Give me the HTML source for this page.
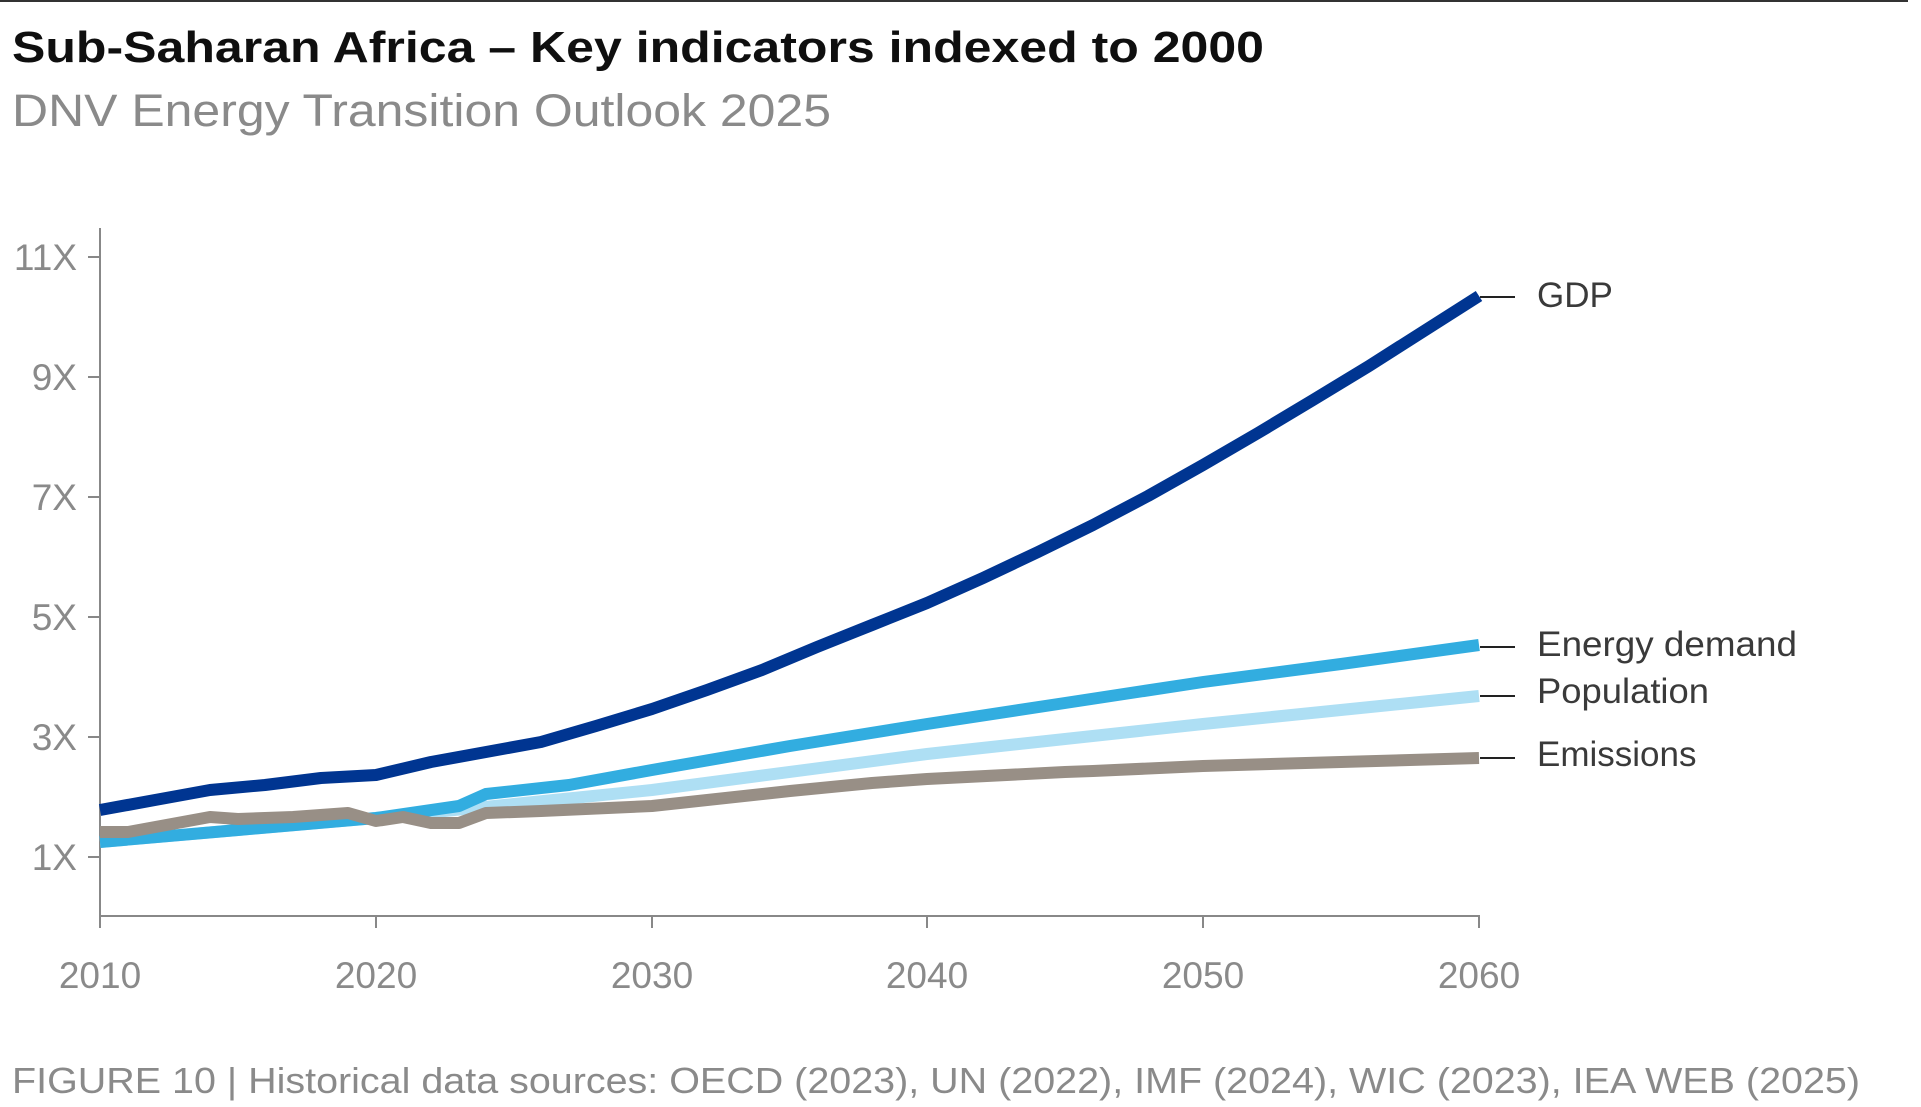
<!DOCTYPE html>
<html><head><meta charset="utf-8"><style>
html,body{margin:0;padding:0;background:#fff;}
body{width:1921px;height:1107px;overflow:hidden;position:relative;font-family:"Liberation Sans",sans-serif;}
</style></head><body>
<svg width="1921" height="1107" xmlns="http://www.w3.org/2000/svg" style="position:absolute;left:0;top:0">
<line x1="0" y1="1" x2="1908" y2="1" stroke="#333" stroke-width="2"/>
<text x="12" y="62" font-family="Liberation Sans" font-weight="bold" font-size="44" fill="#0f0f0f" textLength="1252" lengthAdjust="spacingAndGlyphs">Sub-Saharan Africa – Key indicators indexed to 2000</text>
<text x="12" y="126" font-family="Liberation Sans" font-size="45" fill="#8a8a8a" textLength="819" lengthAdjust="spacingAndGlyphs">DNV Energy Transition Outlook 2025</text>
<g stroke="#888" stroke-width="2">
<line x1="100" y1="228" x2="100" y2="917"/>
<line x1="100" y1="916" x2="1480" y2="916"/>
<line x1="88" y1="257" x2="100" y2="257"/>
<line x1="88" y1="377" x2="100" y2="377"/>
<line x1="88" y1="497" x2="100" y2="497"/>
<line x1="88" y1="617" x2="100" y2="617"/>
<line x1="88" y1="737" x2="100" y2="737"/>
<line x1="88" y1="857" x2="100" y2="857"/>
<line x1="100" y1="916" x2="100" y2="928"/>
<line x1="376" y1="916" x2="376" y2="928"/>
<line x1="652" y1="916" x2="652" y2="928"/>
<line x1="927" y1="916" x2="927" y2="928"/>
<line x1="1203" y1="916" x2="1203" y2="928"/>
<line x1="1479" y1="916" x2="1479" y2="928"/>
</g>
<g font-family="Liberation Sans" font-size="37" fill="#8a8a8a" text-anchor="end">
<text x="77" y="270">11X</text><text x="77" y="390">9X</text><text x="77" y="510">7X</text>
<text x="77" y="630">5X</text><text x="77" y="750">3X</text><text x="77" y="870">1X</text>
</g>
<g font-family="Liberation Sans" font-size="37" fill="#8a8a8a" text-anchor="middle">
<text x="100" y="988">2010</text><text x="376" y="988">2020</text><text x="652" y="988">2030</text>
<text x="927" y="988">2040</text><text x="1203" y="988">2050</text><text x="1479" y="988">2060</text>
</g>
<g fill="none" stroke-width="12" stroke-linejoin="round">
<polyline stroke="#aedff4" points="100,842 238,830 376,818 514,804 652,790 927,754 1203,724 1479,696"/>
<polyline stroke="#32ade0" points="100,842 238,830 376,818 459,806 486,794 569,785 652,770 790,746 927,724 1065,703 1203,682 1341,664 1479,645"/>
<polyline stroke="#988f86" points="100,832 128,832 210,817 238,819 293,817 348,813 376,821 403,817 431,823 459,823 486,813 541,811 652,806 790,791 872,783 927,779 1065,772 1093,771 1203,766 1341,762 1479,758"/>
<polyline stroke="#003591" points="100,810 155,800 210,790 265,785 321,778 376,775 431,762 486,752 541,742 596,726 652,709 707,690 762,670 817,647 872,625 927,603 983,578 1038,552 1093,525 1148,496 1203,465 1258,433 1313,400 1369,366 1424,331 1479,296"/>
</g>
<g stroke="#222" stroke-width="2">
<line x1="1480" y1="297" x2="1515" y2="297"/>
<line x1="1480" y1="647" x2="1515" y2="647"/>
<line x1="1480" y1="696" x2="1515" y2="696"/>
<line x1="1480" y1="758" x2="1515" y2="758"/>
</g>
<g font-family="Liberation Sans" font-size="35" fill="#3a3a3a">
<text x="1537" y="307">GDP</text>
<text x="1537" y="656" textLength="260" lengthAdjust="spacingAndGlyphs">Energy demand</text>
<text x="1537" y="703" textLength="172" lengthAdjust="spacingAndGlyphs">Population</text>
<text x="1537" y="766">Emissions</text>
</g>
<text x="12" y="1093" font-family="Liberation Sans" font-size="36" fill="#8a8a8a" textLength="1848" lengthAdjust="spacingAndGlyphs">FIGURE 10 | Historical data sources: OECD (2023), UN (2022), IMF (2024), WIC (2023), IEA WEB (2025)</text>
</svg>
</body></html>
